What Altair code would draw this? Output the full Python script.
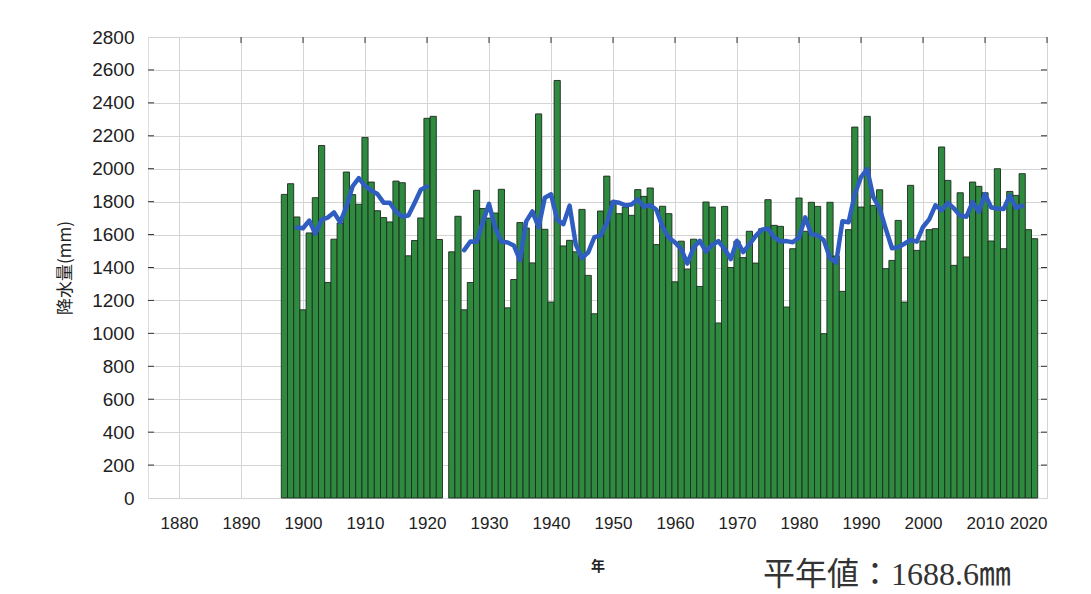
import altair as alt
import pandas as pd

# Annual precipitation (mm), 1897-2018; 1923 missing
years = list(range(1897, 2019))
precip = [
    1844, 1909, 1707, 1143, 1610, 1824, 2141, 1309, 1572, 1670,   # 1897-1906
    1980, 1843, 1784, 2190, 1919, 1745, 1703, 1677, 1925, 1915,   # 1907-1916
    1471, 1564, 1701, 2306, 2318, 1570, None, 1495, 1711, 1143,   # 1917-1926
    1309, 1869, 1758, 1700, 1731, 1875, 1155, 1327, 1673, 1640,   # 1927-1936
    1428, 2333, 1632, 1190, 2536, 1531, 1565, 1495, 1753, 1352,   # 1937-1946
    1119, 1743, 1955, 1802, 1727, 1767, 1717, 1873, 1832, 1883,   # 1947-1956
    1539, 1772, 1727, 1313, 1560, 1390, 1572, 1285, 1798, 1767,   # 1957-1966
    1063, 1771, 1400, 1560, 1460, 1620, 1427, 1635, 1812, 1656,   # 1967-1976
    1650, 1160, 1514, 1822, 1620, 1796, 1771, 998, 1796, 1470,    # 1977-1986
    1255, 1630, 2253, 1767, 2318, 1777, 1872, 1393, 1443, 1686,   # 1987-1996
    1190, 1899, 1504, 1561, 1630, 1636, 2132, 1929, 1413, 1854,   # 1997-2006
    1464, 1919, 1893, 1854, 1561, 2000, 1514, 1862, 1838, 1970,   # 2007-2016
    1630, 1575,                                                   # 2017-2018
]
x_ticks = list(range(1880, 2021, 10))
y_ticks = list(range(0, 2801, 200))
normal_text = "平年値：1688.6㎜"
y_title = "降水量(mm)"
x_title = "年"

W, H = 899, 461
BAR_GREEN = "#2e8a3e"
LINE_BLUE = "#2f5ec0"

df = pd.DataFrame({"year": years, "precip": precip})

xscale = alt.Scale(domain=[1875, 2020], nice=False, zero=False)
yscale = alt.Scale(domain=[0, 2800], nice=False)

xaxis = alt.Axis(values=x_ticks, format="d", grid=True, gridColor="#d4d4d4",
                 gridWidth=1, ticks=False, domain=False, labelPadding=17,
                 labelOverlap=False,
                 labelFont="Liberation Sans", labelFontSize=17, labelColor="#222",
                 title=x_title, titleFont="Noto Sans CJK JP", titleFontSize=14,
                 titleFontWeight="bold", titleColor="#222",
                 titleX=W / 2, titleY=68, titleBaseline="middle")
yaxis = alt.Axis(values=y_ticks, format="d", grid=True, gridColor="#d4d4d4",
                 gridWidth=1, ticks=False, domain=False, labelPadding=14,
                 labelOverlap=False, labelBound=False,
                 labelFont="Liberation Sans", labelFontSize=19,
                 labelFontWeight="normal", labelColor="#222",
                 title=y_title, titleFont="Noto Sans CJK JP", titleFontSize=17,
                 titleFontWeight="normal", titleColor="#222",
                 titleX=-83, titleY=H / 2, titleAngle=-90,
                 titleBaseline="middle", titleAlign="center")

base = alt.Chart(df)

bars = base.transform_filter("isValid(datum.precip)").transform_calculate(
    x0="datum.year - 0.5", x1="datum.year + 0.5"
).mark_rect(fill=BAR_GREEN, stroke="#1e2a20", strokeWidth=0.9).encode(
    x=alt.X("x0:Q", scale=xscale, axis=xaxis),
    x2="x1:Q",
    y=alt.Y("precip:Q", scale=yscale, axis=yaxis),
    y2=alt.datum(0),
)

ma = base.transform_window(
    ma="mean(precip)", n="valid(precip)", frame=[-2, 2], sort=[{"field": "year"}]
).transform_filter("datum.n == 5").transform_calculate(
    seg="datum.year < 1923 ? 'a' : 'b'"
).mark_line(color=LINE_BLUE, strokeWidth=4.5, strokeJoin="round", strokeCap="round").encode(
    x=alt.X("year:Q", scale=xscale, axis=xaxis),
    y=alt.Y("ma:Q", scale=yscale, axis=yaxis),
    detail="seg:N",
)

ydf = pd.DataFrame({"v": y_ticks[1:-1]})
xdf = pd.DataFrame({"v": x_ticks[1:]})
tick_left = alt.Chart(ydf).mark_rule(color="#333", strokeWidth=1).encode(
    y=alt.Y("v:Q", scale=yscale, axis=yaxis), x=alt.value(0), x2=alt.value(6))
tick_right = alt.Chart(ydf).mark_rule(color="#333", strokeWidth=1).encode(
    y=alt.Y("v:Q", scale=yscale, axis=yaxis), x=alt.value(W - 6), x2=alt.value(W))
tick_top = alt.Chart(xdf).mark_rule(color="#333", strokeWidth=1).encode(
    x=alt.X("v:Q", scale=xscale, axis=xaxis), y=alt.value(0), y2=alt.value(6))

note = alt.Chart(pd.DataFrame({"t": [normal_text]})).mark_text(
    align="left", baseline="middle", fontSize=32,
    font="Liberation Serif, Noto Sans CJK JP", color="#333"
).encode(text="t:N", x=alt.value(615), y=alt.value(538))

chart = alt.layer(bars, ma, tick_left, tick_right, tick_top, note).properties(
    width=W, height=H,
    autosize=alt.AutoSizeParams(type="none"),
    padding={"left": 140, "top": 29, "right": 30, "bottom": 110},
).configure_view(stroke="#333", strokeWidth=1.5).configure(background="white")

chart.save("out.html", embed_options={"renderer": "svg", "actions": False})
